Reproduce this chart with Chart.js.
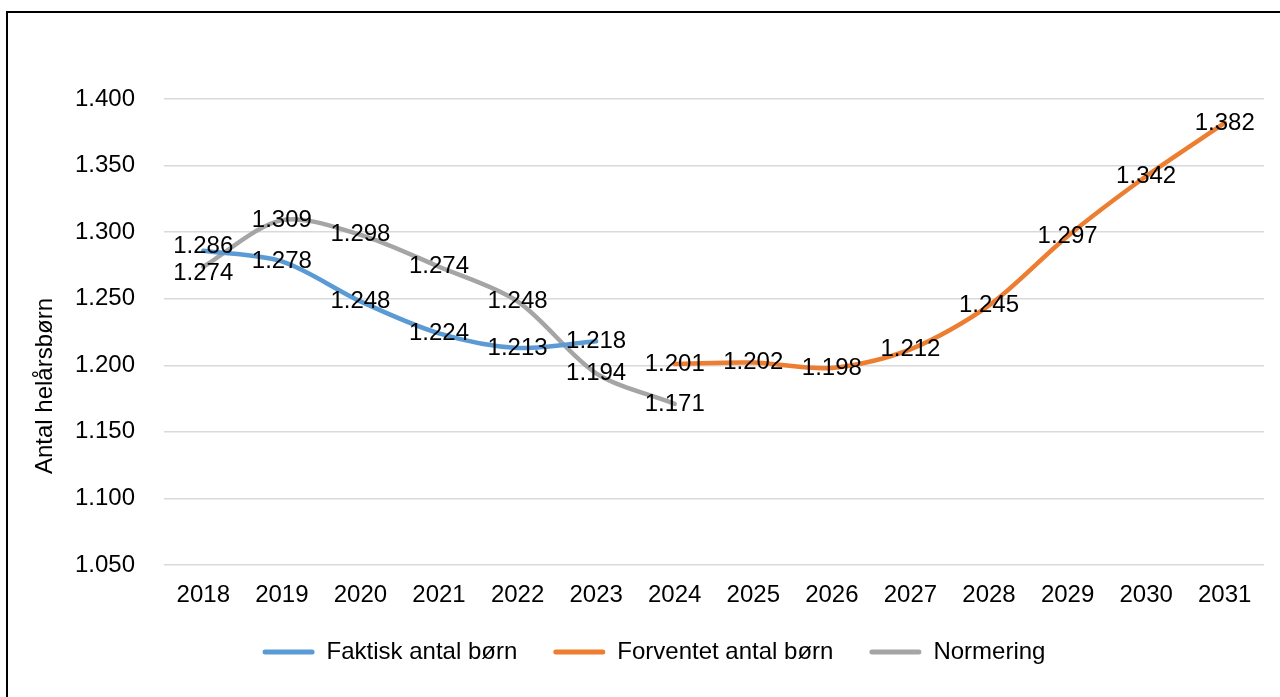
<!DOCTYPE html>
<html>
<head>
<meta charset="utf-8">
<script src="https://cdn.jsdelivr.net/npm/chart.js@4.4.1/dist/chart.umd.min.js"></script>
<style>
  body { margin: 0; background: #fff; }
  #wrap { position: relative; width: 1280px; height: 697px; overflow: hidden; }
  #frame { position: absolute; left: 6px; top: 11px; width: 1300px; height: 700px;
           border-left: 2px solid #000; border-top: 2px solid #000; }
  canvas { position: absolute; left: 0; top: 0; }
</style>
</head>
<body>
<div id="wrap">
  <div id="frame"></div>
  <canvas id="chart" width="1280" height="697"></canvas>
</div>
<script>
// Chart data
const years = ['2018', '2019', '2020', '2021', '2022', '2023', '2024', '2025', '2026', '2027', '2028', '2029', '2030', '2031'];
const faktisk = [1286, 1278, 1248, 1224, 1213, 1218, null, null, null, null, null, null, null, null];
const forventet = [null, null, null, null, null, null, 1201, 1202, 1198, 1212, 1245, 1297, 1342, 1382];
const normering = [1274, 1309, 1298, 1274, 1248, 1194, 1171, null, null, null, null, null, null, null];
const yTicks = [1050, 1100, 1150, 1200, 1250, 1300, 1350, 1400];
const yTitle = 'Antal helårsbørn';

const FONT = 'Liberation Sans, Arial, sans-serif';
const SIZE = 24;

// Danish number format: 1286 -> "1.286"
function fmt(v) {
  const th = Math.floor(v / 1000);
  const rest = String(Math.round(v) % 1000).padStart(3, '0');
  return th > 0 ? th + '.' + rest : String(Math.round(v));
}

// Draw value labels centred on the points, pushing apart labels that collide
const valueLabels = {
  id: 'valueLabels',
  afterDatasetsDraw(chart) {
    const ctx = chart.ctx;
    const byIndex = {};
    chart.data.datasets.forEach((ds, di) => {
      const meta = chart.getDatasetMeta(di);
      meta.data.forEach((pt, i) => {
        if (ds.data[i] == null) return;
        (byIndex[i] = byIndex[i] || []).push({ x: pt.x, y: pt.y, text: fmt(ds.data[i]) });
      });
    });
    ctx.save();
    ctx.font = SIZE + 'px ' + FONT;
    ctx.fillStyle = '#000';
    ctx.textAlign = 'center';
    ctx.textBaseline = 'middle';
    Object.values(byIndex).forEach(list => {
      list.sort((a, b) => a.y - b.y);
      for (let k = 1; k < list.length; k++) {
        const gap = list[k].y - list[k - 1].y;
        if (gap < 27) {
          const push = (27 - gap) / 2;
          list[k - 1].y -= push - 1;
          list[k].y += push + 1;
        }
      }
      list.forEach(l => ctx.fillText(l.text, l.x, l.y));
    });
    ctx.restore();
  }
};

// Y axis title, placed like the original (not centred on the axis)
const axisTitle = {
  id: 'axisTitle',
  afterDraw(chart) {
    const ctx = chart.ctx;
    ctx.save();
    ctx.font = SIZE + 'px ' + FONT;
    ctx.fillStyle = '#000';
    ctx.textAlign = 'center';
    ctx.textBaseline = 'middle';
    ctx.translate(45, 386);
    ctx.rotate(-Math.PI / 2);
    ctx.fillText(yTitle, 0, 0);
    ctx.restore();
  }
};

// nudge the legend row a bit to the right, as in the original
const legendShift = {
  id: 'legendShift',
  afterLayout(chart) {
    if (chart.legend) {
      chart.legend.left += 22;
      chart.legend.right += 22;
    }
  }
};

function series(label, data, color) {
  return {
    label: label,
    data: data,
    borderColor: color,
    backgroundColor: color,
    borderWidth: 4.5,
    borderCapStyle: 'round',
    borderJoinStyle: 'round',
    pointRadius: 0,
    tension: 0.3,
    fill: false
  };
}

new Chart(document.getElementById('chart'), {
  type: 'line',
  data: {
    labels: years,
    datasets: [
      series('Faktisk antal børn', faktisk, '#5B9BD5'),
      series('Forventet antal børn', forventet, '#ED7D31'),
      series('Normering', normering, '#A5A5A5')
    ]
  },
  options: {
    responsive: false,
    animation: false,
    layout: { padding: { top: 99, right: 16, bottom: 23, left: 0 } },
    plugins: {
      tooltip: { enabled: false },
      legend: {
        position: 'bottom',
        labels: {
          font: { size: SIZE, family: FONT },
          color: '#000',
          boxWidth: 52,
          boxHeight: 5,
          padding: 36,
          useBorderRadius: true,
          borderRadius: 2.5,
          generateLabels(chart) {
            return chart.data.datasets.map((ds, i) => ({
              text: ds.label,
              fillStyle: ds.borderColor,
              strokeStyle: ds.borderColor,
              lineWidth: 0,
              borderRadius: 2.5,
              fontColor: '#000',
              datasetIndex: i,
              hidden: false
            }));
          }
        }
      }
    },
    scales: {
      x: {
        offset: true,
        grid: { display: false, drawTicks: false },
        border: { display: false },
        ticks: { font: { size: SIZE, family: FONT }, color: '#000', padding: 16, maxRotation: 0 },
        afterFit(scale) { scale.height = 39; }
      },
      y: {
        min: 1050,
        max: 1400,
        afterBuildTicks(scale) { scale.ticks = yTicks.map(v => ({ value: v })); },
        grid: { color: '#D9D9D9', lineWidth: 1.5, drawTicks: false },
        border: { display: false },
        ticks: { font: { size: SIZE, family: FONT }, color: '#000', padding: 29, callback: v => fmt(v) },
        afterFit(scale) { scale.width = 164; }
      }
    }
  },
  plugins: [valueLabels, axisTitle, legendShift]
});
</script>
</body>
</html>
